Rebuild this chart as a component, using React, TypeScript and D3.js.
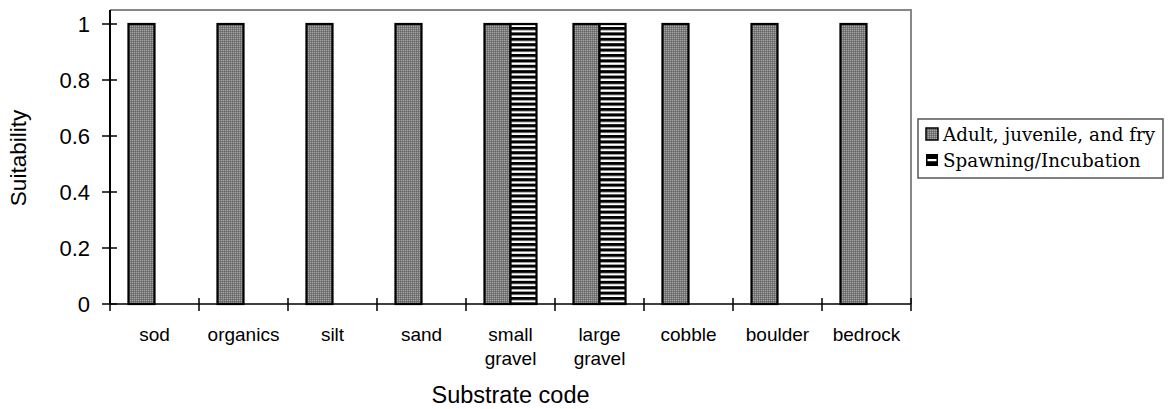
// D3.js — Substrate suitability bar chart
import React, { useEffect, useRef } from "react";
import * as d3 from "d3";

const categories = ["sod", "organics", "silt", "sand", "small gravel", "large gravel", "cobble", "boulder", "bedrock"];
const adultValues = [1, 1, 1, 1, 1, 1, 1, 1, 1];
const spawningValues = [0, 0, 0, 0, 1, 1, 0, 0, 0];
const seriesNames = ["Adult, juvenile, and fry", "Spawning/Incubation"];
const yTicks = [0, 0.2, 0.4, 0.6, 0.8, 1];

const SubstrateChart: React.FC = () => {
  const svgRef = useRef<SVGSVGElement>(null);

  useEffect(() => {
    if (!svgRef.current) return;

    const W = 1170, H = 409;
    const plot = { left: 110, right: 911, top: 10, bottom: 304 };

    const svg = d3.select(svgRef.current);
    svg.selectAll("*").remove();
    svg.attr("width", W).attr("height", H);

    // Patterns
    const defs = svg.append("defs");
    const dots = defs.append("pattern")
      .attr("id", "dots").attr("patternUnits", "userSpaceOnUse")
      .attr("width", 2).attr("height", 2);
    dots.append("rect").attr("width", 2).attr("height", 2).attr("fill", "#7a7a7a");
    dots.append("rect").attr("width", 1).attr("height", 1).attr("fill", "#a6a6a6");
    dots.append("rect").attr("x", 1).attr("y", 1).attr("width", 1).attr("height", 1).attr("fill", "#666");

    const stripes = defs.append("pattern")
      .attr("id", "stripes").attr("patternUnits", "userSpaceOnUse")
      .attr("width", 10).attr("height", 5.4).attr("y", 0);
    stripes.append("rect").attr("width", 10).attr("height", 5.4).attr("fill", "#fff");
    stripes.append("rect").attr("width", 10).attr("height", 3.1).attr("fill", "#000");

    const data = categories.map((c, i) => ({ cat: c, values: [adultValues[i], spawningValues[i]] }));

    const x = d3.scaleBand().domain(categories).range([plot.left, plot.right]).paddingInner(0).paddingOuter(0);
    const inner = d3.scaleBand().domain(["0", "1"]).range([0, x.bandwidth()]).paddingInner(0).paddingOuter(0.71);
    const y = d3.scaleLinear().domain([0, 1]).range([plot.bottom, 24]);

    // Plot area border (top / right)
    svg.append("path")
      .attr("d", `M${plot.left},${plot.top}H${plot.right}V${plot.bottom}`)
      .attr("fill", "none").attr("stroke", "#888").attr("stroke-width", 2);

    // Bars
    const fills = ["url(#dots)", "url(#stripes)"];
    svg.append("g").selectAll("g")
      .data(data)
      .join("g")
      .attr("transform", d => `translate(${x(d.cat)},0)`)
      .selectAll("rect")
      .data(d => d.values.map((v, k) => ({ v, k })).filter(e => e.v > 0))
      .join("rect")
      .attr("x", e => inner(String(e.k))!)
      .attr("width", inner.bandwidth())
      .attr("y", e => y(e.v))
      .attr("height", e => y(0) - y(e.v))
      .attr("fill", e => fills[e.k])
      .attr("stroke", "#000").attr("stroke-width", 2.2);

    // Y axis (cross ticks)
    const yAxis = svg.append("g").attr("transform", `translate(${plot.left},0)`);
    yAxis.append("line").attr("x1", 0).attr("x2", 0).attr("y1", plot.top).attr("y2", plot.bottom)
      .attr("stroke", "#000").attr("stroke-width", 2);
    yAxis.selectAll("line.tk").data(yTicks).join("line").attr("class", "tk")
      .attr("x1", -8).attr("x2", 7).attr("y1", d => y(d)).attr("y2", d => y(d))
      .attr("stroke", "#000").attr("stroke-width", 1.5);
    yAxis.selectAll("text").data(yTicks).join("text")
      .attr("x", -20).attr("y", d => y(d)).attr("dy", "0.36em")
      .attr("text-anchor", "end")
      .attr("font-family", "Liberation Sans, Arial, sans-serif").attr("font-size", 22)
      .text(d => String(d));

    // X axis
    const xAxis = svg.append("g");
    xAxis.append("line").attr("x1", plot.left).attr("x2", plot.right).attr("y1", plot.bottom).attr("y2", plot.bottom)
      .attr("stroke", "#000").attr("stroke-width", 1.5);
    const boundaries = categories.map(c => x(c)!).concat([plot.right]);
    xAxis.selectAll("line.tk").data(boundaries).join("line").attr("class", "tk")
      .attr("x1", d => d).attr("x2", d => d).attr("y1", plot.bottom - 6).attr("y2", plot.bottom + 7)
      .attr("stroke", "#000").attr("stroke-width", 1.5);
    xAxis.selectAll("text").data(categories).join("text")
      .attr("x", d => x(d)! + x.bandwidth() / 2)
      .attr("y", 341)
      .attr("text-anchor", "middle")
      .attr("font-family", "Liberation Sans, Arial, sans-serif").attr("font-size", 19)
      .each(function (d) {
        const words = d.split(" ");
        d3.select(this).selectAll("tspan").data(words).join("tspan")
          .attr("x", x(d)! + x.bandwidth() / 2)
          .attr("dy", (_w, i) => (i === 0 ? 0 : 24))
          .text(w => w);
      });

    // Axis titles
    svg.append("text")
      .attr("x", (plot.left + plot.right) / 2).attr("y", 403)
      .attr("text-anchor", "middle")
      .attr("font-family", "Liberation Sans, Arial, sans-serif").attr("font-size", 23.5)
      .text("Substrate code");
    svg.append("text")
      .attr("transform", `translate(26,158) rotate(-90)`)
      .attr("text-anchor", "middle")
      .attr("font-family", "Liberation Sans, Arial, sans-serif").attr("font-size", 22.5)
      .text("Suitability");

    // Legend
    const lg = svg.append("g").attr("transform", "translate(918,119)");
    lg.append("rect").attr("width", 245).attr("height", 59)
      .attr("fill", "#fff").attr("stroke", "#555").attr("stroke-width", 1.5);
    seriesNames.forEach((name, i) => {
      const row = lg.append("g").attr("transform", `translate(8,${9 + i * 26})`);
      if (i === 0) {
        row.append("rect").attr("width", 12).attr("height", 12)
          .attr("fill", "url(#dots)").attr("stroke", "#000").attr("stroke-width", 1.5);
      } else {
        row.append("rect").attr("width", 12).attr("height", 12).attr("fill", "#000");
        row.append("rect").attr("x", 1.5).attr("y", 5).attr("width", 9).attr("height", 2.2).attr("fill", "#fff");
      }
      row.append("text")
        .attr("x", 17).attr("y", 13)
        .attr("font-family", "DejaVu Serif, serif").attr("font-size", 18.3)
        .text(name);
    });
  }, []);

  return (
    <div style={{ position: "absolute", left: 0, top: 0 }}>
      <svg ref={svgRef} style={{ display: "block", background: "#fff" }} />
    </div>
  );
};

export default function App() {
  return <SubstrateChart />;
}
